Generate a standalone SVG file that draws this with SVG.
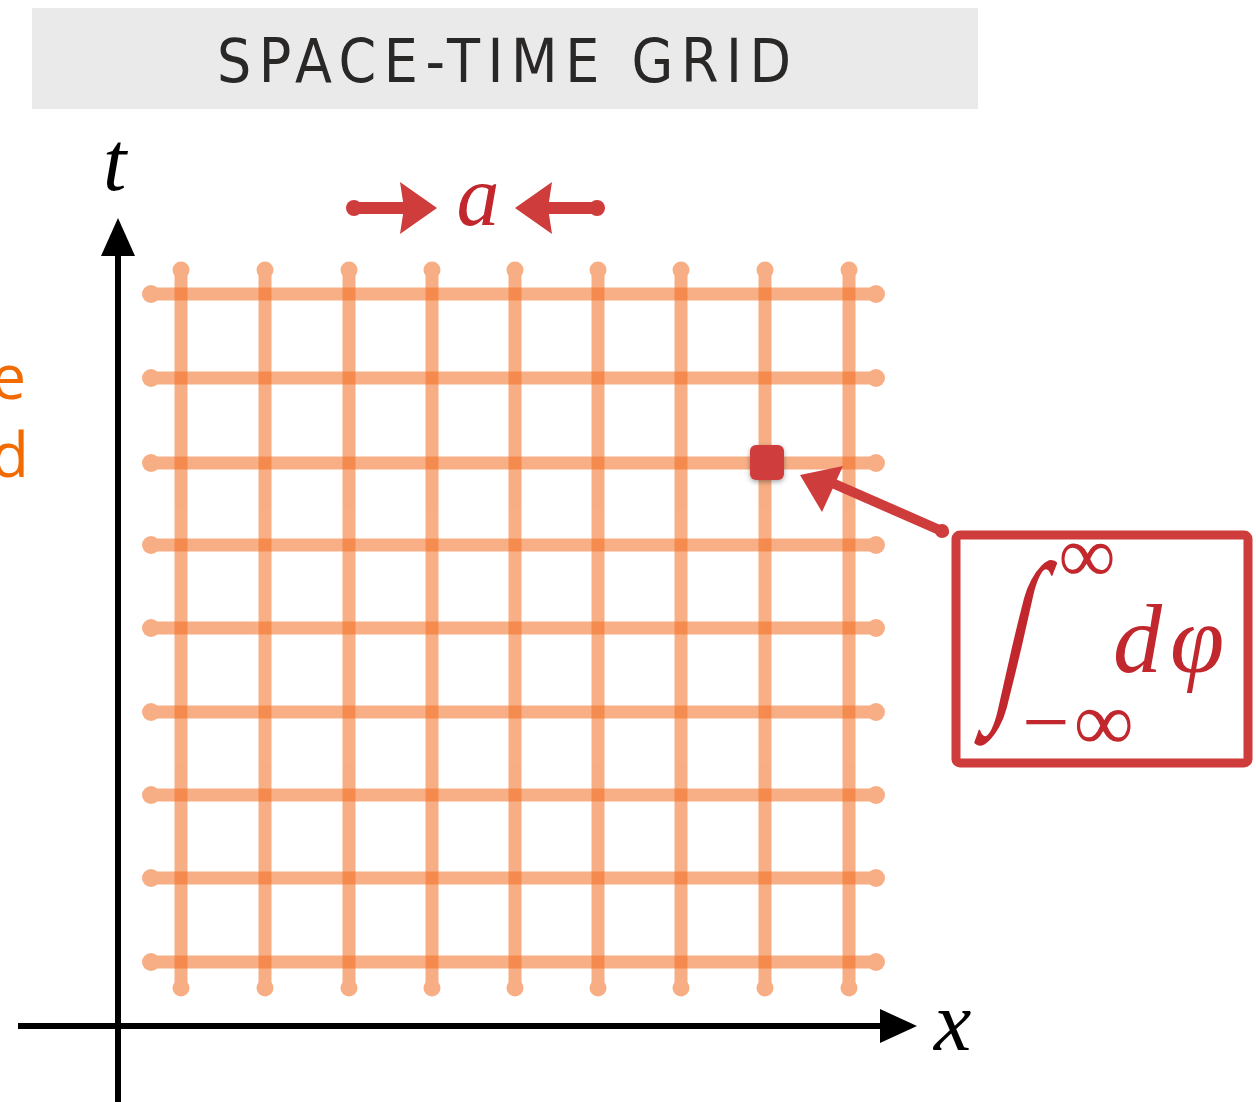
<svg xmlns="http://www.w3.org/2000/svg" width="1256" height="1102" viewBox="0 0 1256 1102">
<style>
.gl{stroke:#f26d21;stroke-width:13;stroke-linecap:round;fill:none}
.ge{fill:#f26d21}
.red{fill:#cf3c3c}
.rs{stroke:#cf3c3c;fill:none;stroke-linecap:round;stroke-linejoin:round}
.math{font-family:"Liberation Serif","DejaVu Serif",serif;font-style:italic;fill:#c1272d}
.ax{stroke:#000;stroke-width:6;fill:none}
</style>
<defs>
<filter id="sh" x="-30%" y="-30%" width="160%" height="160%"><feDropShadow dx="0" dy="2" stdDeviation="2.5" flood-color="#000" flood-opacity="0.35"/></filter>
</defs>
<g id="title">
<rect x="32" y="8" width="946" height="101" fill="#eaeaea"/>
<text x="504" y="82" text-anchor="middle" font-family="'DejaVu Sans Condensed','Open Sans',sans-serif" font-size="60" fill="#2a2727" textLength="574" lengthAdjust="spacing">SPACE-TIME GRID</text>
</g>
<g id="side-label" font-family="'Open Sans','Noto Sans',sans-serif" font-size="62" fill="#f26b00" text-anchor="end">
<text x="26" y="399">e</text>
<text x="29" y="477">d</text>
</g>
<g id="grid">
<g opacity="0.55">
<path class="gl" d="M181 270 L181 988"/><circle class="ge" cx="181" cy="270" r="8.5"/><circle class="ge" cx="181" cy="988" r="8.5"/>
</g>
<g opacity="0.55">
<path class="gl" d="M265 270 L265 988"/><circle class="ge" cx="265" cy="270" r="8.5"/><circle class="ge" cx="265" cy="988" r="8.5"/>
</g>
<g opacity="0.55">
<path class="gl" d="M349 270 L349 988"/><circle class="ge" cx="349" cy="270" r="8.5"/><circle class="ge" cx="349" cy="988" r="8.5"/>
</g>
<g opacity="0.55">
<path class="gl" d="M432 270 L432 988"/><circle class="ge" cx="432" cy="270" r="8.5"/><circle class="ge" cx="432" cy="988" r="8.5"/>
</g>
<g opacity="0.55">
<path class="gl" d="M515 270 L515 988"/><circle class="ge" cx="515" cy="270" r="8.5"/><circle class="ge" cx="515" cy="988" r="8.5"/>
</g>
<g opacity="0.55">
<path class="gl" d="M598 270 L598 988"/><circle class="ge" cx="598" cy="270" r="8.5"/><circle class="ge" cx="598" cy="988" r="8.5"/>
</g>
<g opacity="0.55">
<path class="gl" d="M681 270 L681 988"/><circle class="ge" cx="681" cy="270" r="8.5"/><circle class="ge" cx="681" cy="988" r="8.5"/>
</g>
<g opacity="0.55">
<path class="gl" d="M765 270 L765 988"/><circle class="ge" cx="765" cy="270" r="8.5"/><circle class="ge" cx="765" cy="988" r="8.5"/>
</g>
<g opacity="0.55">
<path class="gl" d="M849 270 L849 988"/><circle class="ge" cx="849" cy="270" r="8.5"/><circle class="ge" cx="849" cy="988" r="8.5"/>
</g>
<g opacity="0.55">
<path class="gl" d="M151 294 L876 294"/><circle class="ge" cx="151" cy="294" r="9"/><circle class="ge" cx="876" cy="294" r="9"/>
</g>
<g opacity="0.55">
<path class="gl" d="M151 378 L876 378"/><circle class="ge" cx="151" cy="378" r="9"/><circle class="ge" cx="876" cy="378" r="9"/>
</g>
<g opacity="0.55">
<path class="gl" d="M151 463 L876 463"/><circle class="ge" cx="151" cy="463" r="9"/><circle class="ge" cx="876" cy="463" r="9"/>
</g>
<g opacity="0.55">
<path class="gl" d="M151 545 L876 545"/><circle class="ge" cx="151" cy="545" r="9"/><circle class="ge" cx="876" cy="545" r="9"/>
</g>
<g opacity="0.55">
<path class="gl" d="M151 628 L876 628"/><circle class="ge" cx="151" cy="628" r="9"/><circle class="ge" cx="876" cy="628" r="9"/>
</g>
<g opacity="0.55">
<path class="gl" d="M151 712 L876 712"/><circle class="ge" cx="151" cy="712" r="9"/><circle class="ge" cx="876" cy="712" r="9"/>
</g>
<g opacity="0.55">
<path class="gl" d="M151 795 L876 795"/><circle class="ge" cx="151" cy="795" r="9"/><circle class="ge" cx="876" cy="795" r="9"/>
</g>
<g opacity="0.55">
<path class="gl" d="M151 878 L876 878"/><circle class="ge" cx="151" cy="878" r="9"/><circle class="ge" cx="876" cy="878" r="9"/>
</g>
<g opacity="0.55">
<path class="gl" d="M151 962 L876 962"/><circle class="ge" cx="151" cy="962" r="9"/><circle class="ge" cx="876" cy="962" r="9"/>
</g>
</g>
<g id="axes">
<path class="ax" d="M118 1102 L118 250"/>
<polygon points="118,218 101,256 135,256" fill="#000"/>
<path class="ax" d="M18 1026 L884 1026"/>
<polygon points="917,1026 880,1009 880,1043" fill="#000"/>
</g>
<g id="axis-labels" class="math" font-size="84">
<text x="103" y="190" style="fill:#000">t</text>
<text x="934" y="1050" style="fill:#000">x</text>
</g>
<g id="spacing">
<path class="rs" stroke-width="12" d="M353 208 L405 208"/>
<circle class="red" cx="354" cy="208" r="8"/>
<polygon class="red" points="437,208 400,182 404,208 400,234"/>
<path class="rs" stroke-width="12" d="M598 208 L546 208"/>
<circle class="red" cx="597" cy="208" r="8"/>
<polygon class="red" points="515,208 552,182 548,208 552,234"/>
<text class="math" x="478" y="225" font-size="86" text-anchor="middle">a</text>
</g>
<g id="point">
<rect x="750" y="445" width="34" height="35" rx="6" class="red" filter="url(#sh)"/>
</g>
<g id="connector">
<path class="rs" stroke-width="10" d="M944 532 L830 482"/>
<circle class="red" cx="942" cy="531" r="7"/>
<polygon class="red" points="800,475 843,466 822,512"/>
</g>
<g id="formula">
<rect x="956" y="535" width="292" height="228" rx="4" class="rs" stroke-width="9"/>
<text x="1006" y="695" font-family="'Liberation Serif',serif" font-size="110" fill="#c1272d" text-anchor="middle" transform="translate(1006 695) skewX(-13) scale(1 1.72) translate(-1006 -695)">∫</text>
<text x="1087" y="582" font-family="'Liberation Serif',serif" font-size="80" fill="#c1272d" text-anchor="middle">∞</text>
<text x="1080" y="750" font-family="'Liberation Serif',serif" font-size="84" fill="#c1272d" text-anchor="middle" letter-spacing="4">−∞</text>
<text class="math" x="1113" y="672" font-size="98" letter-spacing="8">dφ</text>
</g>
</svg>
